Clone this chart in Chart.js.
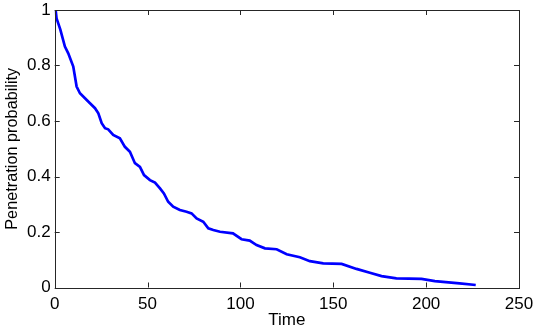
<!DOCTYPE html>
<html><head><meta charset="utf-8">
<script src="https://cdn.jsdelivr.net/npm/chart.js@4/dist/chart.umd.min.js"></script>
<style>html,body{margin:0;padding:0;background:#fff}#w{width:534px;height:331px}</style>
</head><body><div id="w"><canvas id="c" width="534" height="331"></canvas></div>
<script>
const time = [0.5, 1, 3, 5.5, 7.3, 10, 11.8, 13.6, 16.3, 19, 21.7, 23.5, 25.3, 27.1, 28.8, 31.5, 35.1, 37.8, 40.5, 43.2, 45.9, 48.1, 51.3, 54, 56.7, 58.8, 61.1, 63.8, 67.4, 71, 73.7, 76.4, 80, 82.7, 85.4, 89, 96, 100.6, 105, 108.7, 113.2, 119.5, 124.9, 132, 137.4, 144.6, 154.5, 162.5, 169.7, 176, 184, 197.5, 204.7, 218, 226.7];
const prob = [1, 0.97, 0.93, 0.868, 0.844, 0.796, 0.724, 0.70, 0.682, 0.664, 0.646, 0.628, 0.592, 0.574, 0.570, 0.55, 0.538, 0.507, 0.489, 0.448, 0.435, 0.405, 0.387, 0.378, 0.357, 0.339, 0.309, 0.291, 0.279, 0.273, 0.267, 0.249, 0.237, 0.213, 0.207, 0.201, 0.195, 0.174, 0.169, 0.153, 0.141, 0.138, 0.12, 0.109, 0.095, 0.087, 0.085, 0.067, 0.053, 0.041, 0.033, 0.031, 0.023, 0.015, 0.009];
const xTicks = [0, 50, 100, 150, 200, 250];
const yTicks = [0, 0.2, 0.4, 0.6, 0.8, 1];
const xTitle = "Time";
const yTitle = "Penetration probability";

const axisColor = '#262626';
const fam = '"Liberation Sans", Arial, sans-serif';
const font = {family: fam, size: 17};
const yTitleFont = {family: fam, size: 16.3};

const boxPlugin = {
  id: 'box',
  afterDatasetsDraw(chart) {
    const {ctx, chartArea: a, scales} = chart;
    ctx.save();
    ctx.strokeStyle = axisColor;
    ctx.lineWidth = 1;
    ctx.beginPath();
    const L = 5;
    xTicks.forEach(v => {
      const px = Math.round(scales.x.getPixelForValue(v)) + 0.5;
      ctx.moveTo(px, a.bottom); ctx.lineTo(px, a.bottom - L);
      ctx.moveTo(px, a.top); ctx.lineTo(px, a.top + L);
    });
    yTicks.forEach(v => {
      const py = Math.round(scales.y.getPixelForValue(v)) + 0.5;
      ctx.moveTo(a.left, py); ctx.lineTo(a.left + L, py);
      ctx.moveTo(a.right, py); ctx.lineTo(a.right - L, py);
    });
    ctx.stroke();
    ctx.strokeRect(Math.round(a.left) + 0.5, Math.round(a.top) + 0.5, Math.round(a.right - a.left), Math.round(a.bottom - a.top));
    ctx.restore();
  }
};

new Chart(document.getElementById('c'), {
  type: 'line',
  data: {
    datasets: [{
      data: time.map((t, i) => ({x: t, y: prob[i]})),
      borderColor: '#0000ff',
      borderWidth: 2.7,
      pointRadius: 0,
      tension: 0,
      fill: false
    }]
  },
  options: {
    responsive: false,
    animation: false,
    layout: {padding: {top: 10, right: 15, left: 0, bottom: 0}},
    plugins: {legend: {display: false}, tooltip: {enabled: false}},
    scales: {
      x: {
        type: 'linear', min: 0, max: 250,
        afterBuildTicks: s => { s.ticks = xTicks.map(v => ({value: v})); },
        afterFit: s => { s.height = 43.5; s.paddingLeft = 0; s.paddingRight = 0; },
        grid: {display: false, drawTicks: false},
        border: {display: false},
        ticks: {color: '#000', font: font, padding: 7, maxRotation: 0, callback: v => String(v)},
        title: {display: true, text: xTitle, color: '#000', font: font, padding: {top: 0, bottom: 0}}
      },
      y: {
        type: 'linear', min: 0, max: 1,
        afterBuildTicks: s => { s.ticks = yTicks.map(v => ({value: v})); },
        afterFit: s => { s.width = 54.7; s.paddingTop = 0; s.paddingBottom = 0; },
        grid: {display: false, drawTicks: false},
        border: {display: false},
        ticks: {color: '#000', font: font, padding: 4, callback: v => String(+v.toFixed(1))},
        title: {display: true, text: yTitle, color: '#000', font: yTitleFont, padding: {top: 3, bottom: 0}}
      }
    }
  },
  plugins: [boxPlugin]
});
</script></body></html>
